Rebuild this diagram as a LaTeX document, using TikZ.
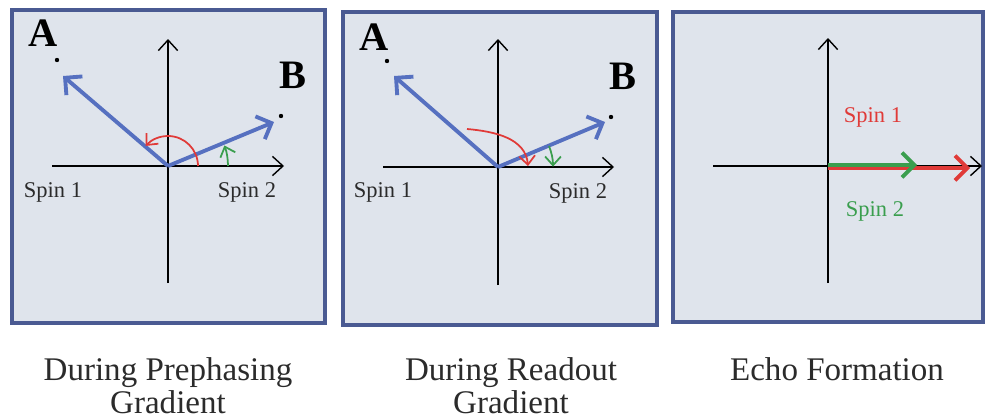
\documentclass[tikz,border=0pt]{standalone}
\usepackage{fontspec}
\setmainfont{Liberation Serif}
\usetikzlibrary{arrows.meta}
\definecolor{panelfill}{HTML}{DFE4EC}
\definecolor{panelline}{HTML}{4A5A92}
\definecolor{vecblue}{HTML}{5670C0}
\definecolor{spinred}{HTML}{E03A38}
\definecolor{spingreen}{HTML}{3A9E4E}
\definecolor{ink}{HTML}{2B2B2B}

\begin{document}
\begin{tikzpicture}[x=0.02cm, y=0.02cm,
    panel/.style = {draw=panelline, fill=panelfill, line width=2pt, minimum width=6.26cm, minimum height=6.26cm, inner sep=0pt},
    axis/.style = {black, line width=0.8pt, -{Straight Barb[length=6pt, width=11pt]}},
    vec/.style = {vecblue, line width=2.2pt, -{Straight Barb[length=7pt, width=14pt, line width=2.2pt]}},
    turn/.style = {line width=1pt, -{Straight Barb[length=5pt, width=9pt]}},
    spin/.style = {text=ink, font=\fontsize{12.8}{14}\selectfont},
    lab/.style = {font=\fontsize{23}{25}\selectfont\bfseries},
    caption/.style = {text=ink, font=\fontsize{18.8}{20}\selectfont, anchor=base},
    dot/.style = {circle, fill=black, inner sep=0pt, minimum size=2.5pt}]
    \useasboundingbox (0,0) rectangle (989,-419);
    % panels
    \node[panel] (p1) at (168.5,-166.5) {};
    \node[panel, minimum width=6.28cm] (p2) at (500,-168.5) {};
    \node[panel, minimum width=6.2cm, minimum height=6.2cm] (p3) at (828,-167) {};

    % prephasing
    \coordinate (o1) at (168,-166);
    \coordinate (t1) at (168,-39);
    \coordinate (b1) at (168,-283);
    \coordinate (l1) at (52,-166);
    \coordinate (r1) at (284,-166);
    \draw[axis] (b1) -- (t1);
    \draw[axis] (l1) -- (r1);
    \coordinate (va1) at (63,-76);
    \coordinate (vb1) at (274,-122);
    \draw[vec] (o1) -- (va1);
    \draw[vec] (o1) -- (vb1);
    \node[dot] (da1) at (57,-60) {};
    \node[dot] (db1) at (281,-116) {};
    \node[lab] (A1) at (43,-33) {A};
    \node[lab] (B1) at (293,-75) {B};
    \coordinate (rs1) at (198,-166);
    \coordinate (gs1) at (228,-166);
    \draw[turn, spinred] (rs1) arc[start angle=0, end angle=138, radius=30];
    \draw[turn, spingreen] (gs1) arc[start angle=0, end angle=20, radius=60];
    \node[spin] (s11) at (53,-192) {Spin 1};
    \node[spin] (s21) at (247,-192) {Spin 2};

    % readout
    \coordinate (o2) at (498,-167);
    \coordinate (t2) at (498,-39);
    \coordinate (b2) at (498,-285);
    \coordinate (l2) at (383,-167);
    \coordinate (r2) at (614,-167);
    \draw[axis] (b2) -- (t2);
    \draw[axis] (l2) -- (r2);
    \coordinate (va2) at (394,-76);
    \coordinate (vb2) at (605,-122);
    \draw[vec] (o2) -- (va2);
    \draw[vec] (o2) -- (vb2);
    \node[dot] (da2) at (387,-61) {};
    \node[dot] (db2) at (611,-117) {};
    \node[lab] (A2) at (374,-37) {A};
    \node[lab] (B2) at (623,-76) {B};
    \coordinate (rs2) at (467,-129);
    \coordinate (re2) at (528,-166);
    \coordinate (gs2) at (549,-146);
    \draw[turn, spinred] (rs2) to[out=-5, in=95] (re2);
    \draw[turn, spingreen] (gs2) arc[start angle=22, end angle=0, radius=55];
    \node[spin] (s12) at (383,-192) {Spin 1};
    \node[spin] (s22) at (578,-193) {Spin 2};

    % echo
    \coordinate (o3) at (828,-166);
    \coordinate (t3) at (828,-38);
    \coordinate (b3) at (828,-283);
    \coordinate (l3) at (713,-166);
    \coordinate (r3) at (982,-166);
    \draw[axis] (b3) -- (t3);
    \draw[axis] (l3) -- (r3);
    \coordinate (or3) at (828,-168);
    \coordinate (er3) at (970,-168);
    \coordinate (og3) at (828,-165);
    \coordinate (eg3) at (917,-165);
    \draw[vec, spinred, line width=1.8pt] (or3) -- (er3);
    \draw[vec, spingreen] (og3) -- (eg3);
    \node[spin, text=spinred] (s13) at (873,-117) {Spin 1};
    \node[spin, text=spingreen] (s23) at (875,-211) {Spin 2};

    % captions
    \node[caption] (c1) at (168,-380) {During Prephasing};
    \node[caption] (c1b) at (168,-413) {Gradient};
    \node[caption] (c2) at (511,-380) {During Readout};
    \node[caption] (c2b) at (511,-413) {Gradient};
    \node[caption] (c3) at (837,-380) {Echo Formation};
\end{tikzpicture}
\end{document}
